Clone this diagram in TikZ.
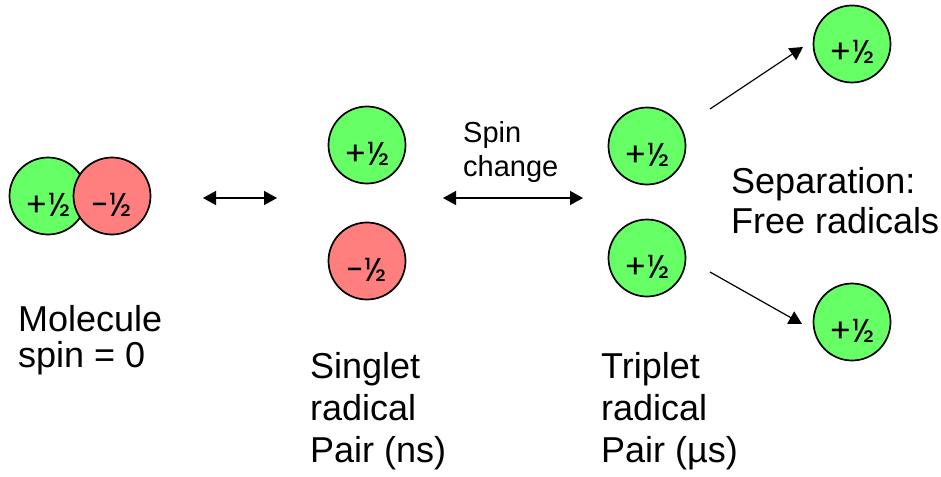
\documentclass[tikz,border=0pt]{standalone}
\usepackage{fontspec}
\setmainfont{Liberation Sans}
\newfontfamily\ballfont{Poppins}
\usetikzlibrary{arrows.meta}
\definecolor{spinG}{HTML}{66FF66}
\definecolor{spinR}{HTML}{FF7F7F}
\begin{document}
\begin{tikzpicture}[x=1pt,y=-1pt,
 spinball/.style={circle, draw=black, line width=1.7pt, minimum size=77pt, inner sep=0pt,
   text height=40pt, text depth=0pt, font=\ballfont\fontsize{33}{33}\selectfont},
 up/.style={spinball, fill=spinG},
 down/.style={spinball, fill=spinR},
 arr/.style={line width=1.5pt, {Triangle[length=13pt,width=14pt]}-{Triangle[length=13pt,width=14pt]}},
 arr1/.style={line width=1.2pt, -{Triangle[length=13pt,width=14pt]}},
 lbl/.style={anchor=base west, inner sep=0pt, align=left, font=\fontsize{36}{42}\selectfont}
]
\useasboundingbox (0,0) rectangle (941,476);

\node[up] (mg) at (48,196) {+½};
\node[down] (mr) at (112,196) {-½};
\node[up] (sg) at (367,145) {+½};
\node[down] (sr) at (367,261) {-½};
\node[up] (tu) at (647,146) {+½};
\node[up] (td) at (647,258) {+½};
\node[up] (fu) at (852,44) {+½};
\node[up] (fd) at (852,322) {+½};

\coordinate (a1l) at (203,198); \coordinate (a1r) at (277,198);
\coordinate (a2l) at (443,198); \coordinate (a2r) at (583,198);
\coordinate (a3s) at (710,109); \coordinate (a3e) at (803,47);
\coordinate (a4s) at (710,272); \coordinate (a4e) at (802,324);

\draw[arr] (a1l) -- (a1r);
\draw[arr] (a2l) -- (a2r);
\draw[arr1] (a3s) -- (a3e);
\draw[arr1] (a4s) -- (a4e);

\node[lbl, font=\fontsize{36}{36}\selectfont] (molL) at (18,367) {Molecule\\spin = 0};
\node[lbl] (sgL) at (310,462) {Singlet\\radical\\Pair (ns)};
\node[lbl] (trL) at (601,462) {Triplet\\radical\\Pair (µs)};
\node[lbl, font=\fontsize{36}{40}\selectfont] (sepL) at (731,233) {Separation:\\Free radicals};
\node[lbl, font=\fontsize{29}{34}\selectfont] (spL) at (463,176) {Spin\\change};
\end{tikzpicture}
\end{document}
